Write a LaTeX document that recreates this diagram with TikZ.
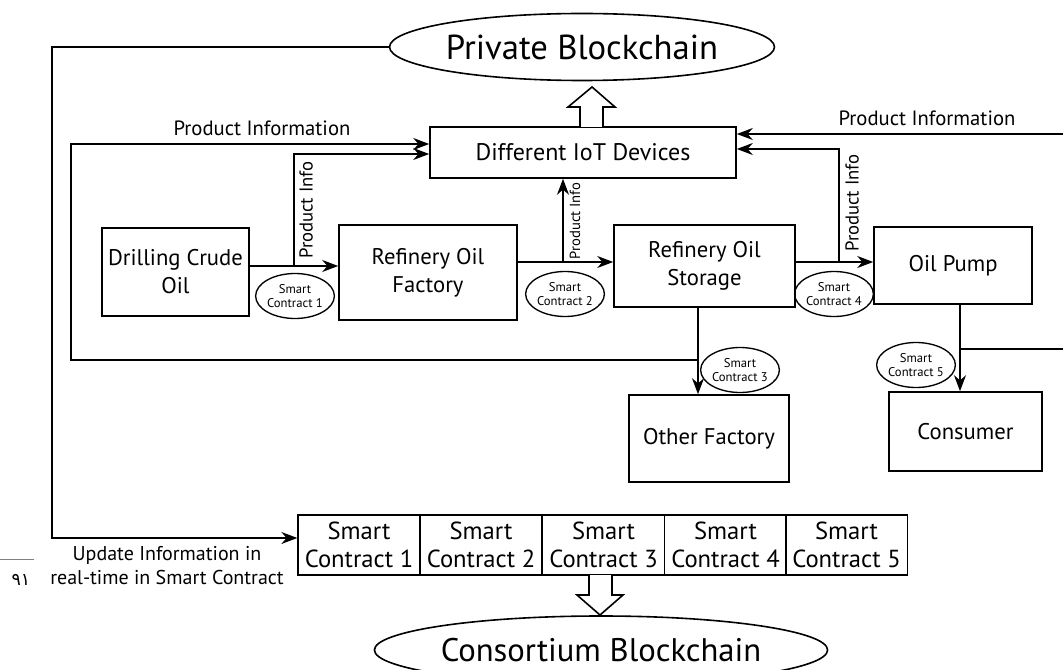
\documentclass[tikz,border=0pt]{standalone}
\usepackage{fontspec}
\setmainfont{PT Sans}
\newfontfamily\arabicdigits[Script=Arabic]{DejaVu Sans}
\usetikzlibrary{shapes.geometric,arrows.meta,calc}
\def\px{*0.75pt}
\begin{document}
\begin{tikzpicture}[x=0.75pt,y=-0.75pt,line width=1.2pt,
  box/.style={draw,rectangle,inner sep=0pt,align=center,font=\fontsize{17}{21}\selectfont},
  bigell/.style={draw,ellipse,inner sep=0pt},
  scell/.style={draw,ellipse,inner sep=0pt,line width=1pt,minimum width=75\px,minimum height=45\px,align=center,font=\fontsize{9.5}{11}\selectfont},
  cell/.style={draw,rectangle,inner sep=0pt,line width=1pt,minimum width=122\px,minimum height=60\px,align=center,font=\fontsize{18.5}{21}\selectfont},
  lbl/.style={font=\fontsize{15.5}{18}\selectfont},
  vlbl/.style={font=\fontsize{14}{16}\selectfont,rotate=90},
  arr/.style={-{Stealth[length=12pt,width=9pt]}},
  hollow/.style={draw,fill=white,line width=1.2pt}]
\useasboundingbox (0,0) rectangle (1063,670);
% nodes
\node[bigell,minimum width=372\px,minimum height=67\px,font=\fontsize{26}{30}\selectfont] (pb) at (582,47) {Private Blockchain};
\node[box,minimum width=306\px,minimum height=51\px,font=\fontsize{18}{21}\selectfont] (iot) at (583,152.5) {Different IoT Devices};
\node[box,minimum width=147\px,minimum height=88\px] (drill) at (175.5,272) {Drilling Crude\\Oil};
\node[box,minimum width=178\px,minimum height=95\px] (fact) at (428,272.5) {Refinery Oil\\Factory};
\node[box,minimum width=181\px,minimum height=82\px] (stor) at (704.5,266) {Refinery Oil\\Storage};
\node[box,minimum width=158\px,minimum height=77\px] (pump) at (953,265.5) {Oil Pump};
\node[box,minimum width=160\px,minimum height=87\px] (other) at (709,438.5) {Other Factory};
\node[box,minimum width=153\px,minimum height=79\px] (cons) at (965.5,431.5) {Consumer};
\node[scell] (sc1) at (295,296) {Smart\\Contract 1};
\node[scell] (sc2) at (565,294) {Smart\\Contract 2};
\node[scell] (sc3) at (740,370) {Smart\\Contract 3};
\node[scell] (sc4) at (834,294) {Smart\\Contract 4};
\node[scell] (sc5) at (916,365) {Smart\\Contract 5};
\node[cell] (t1) at (359,545) {Smart\\Contract 1};
\node[cell] (t2) at (481,545) {Smart\\Contract 2};
\node[cell] (t3) at (603.5,545) {Smart\\Contract 3};
\node[cell] (t4) at (725.5,545) {Smart\\Contract 4};
\node[cell] (t5) at (846.5,545) {Smart\\Contract 5};
\node[bigell,minimum width=372\px,minimum height=68\px,font=\fontsize{24.5}{30}\selectfont] (cb) at (601,650) {Consortium Blockchain};
% coordinates
\coordinate (yA) at (0,266);
\coordinate (yB) at (0,262);
\coordinate (yT1) at (0,144);
\coordinate (yT2) at (0,154);
\coordinate (yR1) at (0,134);
\coordinate (yR2) at (0,149);
\coordinate (yL) at (0,360);
\coordinate (yU) at (0,538);
\coordinate (xL) at (52,0);
\coordinate (xL2) at (71,0);
\coordinate (xS) at (698,0);
\coordinate (xP1) at (294,0);
\coordinate (xP2) at (563,0);
\coordinate (xP3) at (839,0);
\coordinate (xC) at (960,0);
\coordinate (redge1) at (1063,134);
\coordinate (redge2) at (1063,349);
% main flow
\draw[arr] (drill.east |- yA) -- (fact.west |- yA);
\draw[arr] (fact.east |- yB) -- (stor.west |- yB);
\draw[arr] (stor.east |- yB) -- (pump.west |- yB);
\draw[arr] (xS |- stor.south) -- (xS |- other.north);
\draw[arr] (xC |- pump.south) -- (xC |- cons.north);
% info lines
\draw[arr] (xS |- yL) -- (xL2 |- yL) -- (xL2 |- yT1) -- (iot.west |- yT1);
\draw[arr] (xP1 |- yA) -- (xP1 |- yT2) -- (iot.west |- yT2);
\draw[arr] (xP2 |- yB) -- (xP2 |- iot.south);
\draw[arr] (xP3 |- yB) -- (xP3 |- yR2) -- (iot.east |- yR2);
\draw[arr] (redge1) -- (iot.east |- yR1);
\draw (xC |- redge2) -- (redge2);
\draw[arr] (pb.west) -- (xL |- pb.west) -- (xL |- yU) -- (t1.west |- yU);
% hollow arrows
\draw[hollow] (580,127) -- (580,107) -- (568,107) -- (592,87) -- (615,107) -- (603,107) -- (603,127);
\draw[hollow] (589,575) -- (589,595) -- (577,595) -- (600,615) -- (623,595) -- (612,595) -- (612,575);
% labels
\node[lbl] (lpi1) at (262,128) {Product Information};
\node[lbl] (lpi2) at (927,118) {Product Information};
\node[vlbl] (v1) at (306,210) {Product Info};
\node[vlbl,font=\fontsize{11}{13}\selectfont] (v2) at (575,221) {Product Info};
\node[vlbl] (v3) at (852,203) {Product Info};
\node[align=center,font=\fontsize{15}{18}\selectfont] (upd) at (167,566) {Update Information in\\real-time in Smart Contract};
\node[font=\arabicdigits\fontsize{13}{15}\selectfont] (pg) at (21,580) {٩١};
\coordinate (pl1) at (0,559);
\coordinate (pl2) at (34,559);
\draw[line width=0.6pt,gray] (pl1) -- (pl2);
\end{tikzpicture}
\end{document}
